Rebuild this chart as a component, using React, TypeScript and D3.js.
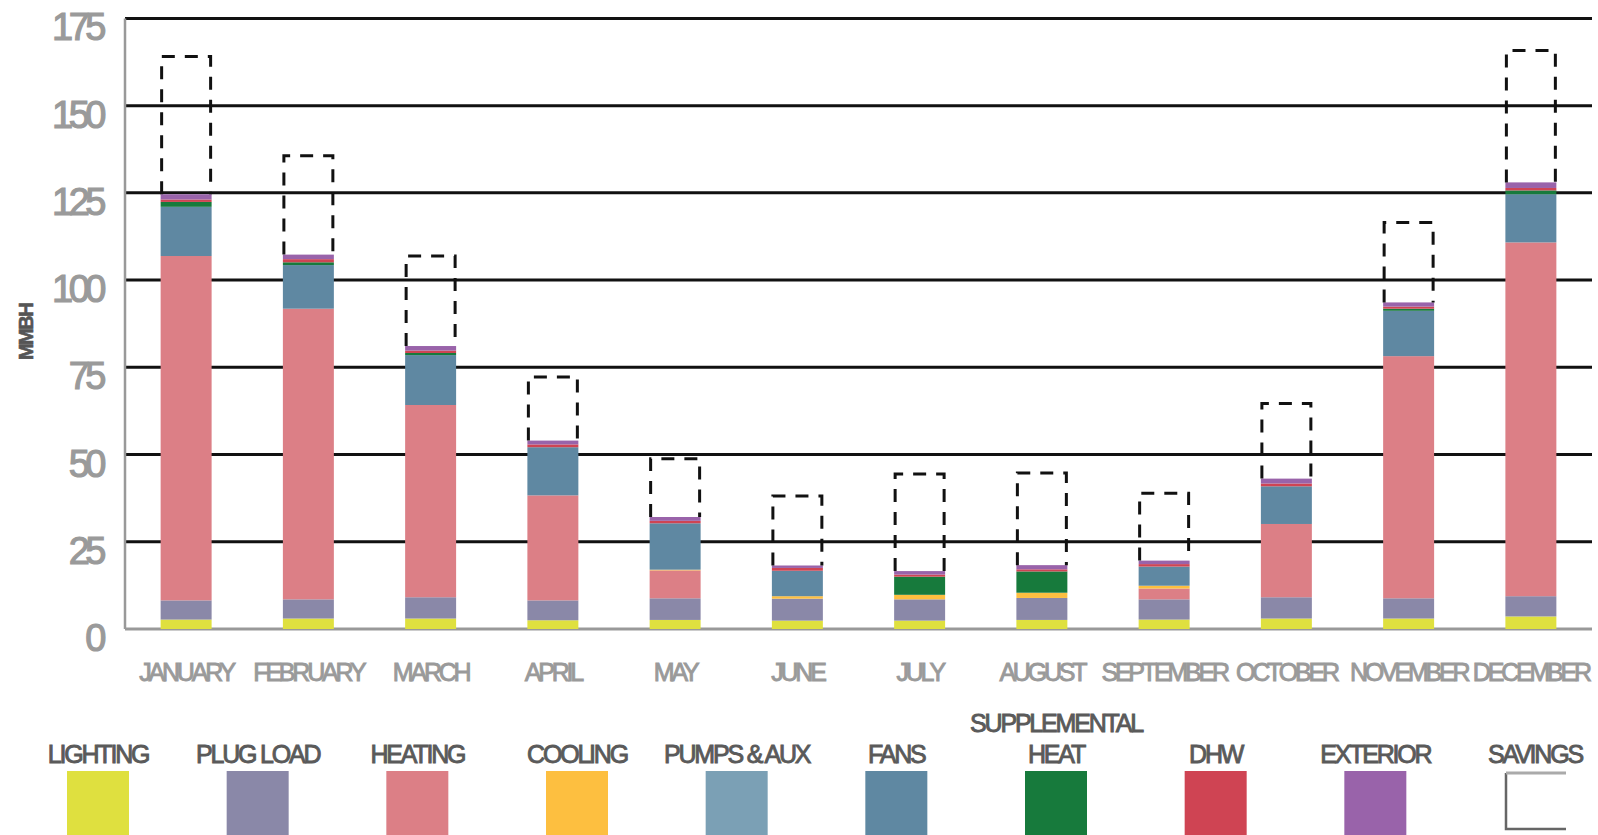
import React from "react";
import { scaleBand, scaleLinear, stack, range } from "d3";

// monthly energy use by end use, MMBH
const months = [
  "JANUARY", "FEBRUARY", "MARCH", "APRIL", "MAY", "JUNE",
  "JULY", "AUGUST", "SEPTEMBER", "OCTOBER", "NOVEMBER", "DECEMBER"
];

const lighting = [2.7, 3.0, 3.0, 2.5, 2.6, 2.4, 2.4, 2.6, 2.7, 3.0, 3.0, 3.6];
const plugLoad = [5.5, 5.5, 6.1, 5.7, 6.2, 6.3, 6.1, 6.3, 5.8, 6.1, 5.8, 5.8];
const heating = [98.7, 83.3, 55.1, 30.1, 8.0, 0, 0, 0, 3.1, 21.0, 69.4, 101.4];
const cooling = [0, 0, 0, 0, 0.2, 0.7, 1.3, 1.5, 0.8, 0, 0, 0];
const pumpsAux = [0, 0, 0, 0, 0, 0, 0, 0, 0, 0, 0, 0];
const fans = [14.1, 12.5, 14.3, 13.8, 13.3, 7.3, 0, 0, 5.5, 10.8, 13.0, 13.8];
const suppHeat = [1.4, 0.8, 0.6, 0, 0, 0, 5.2, 6.1, 0, 0, 0.6, 1.1];
const dhw = [0.7, 0.9, 0.7, 0.8, 0.7, 0.8, 0.6, 0.6, 0.7, 0.8, 0.6, 0.7];
const exterior = [1.5, 1.3, 1.3, 1.1, 1.1, 0.7, 1.0, 1.2, 1.0, 1.4, 1.2, 1.6];
const savings = [39.5, 28.3, 25.8, 18.2, 16.7, 19.9, 27.8, 26.4, 19.3, 21.5, 22.9, 37.8];

const yTicks = [0, 25, 50, 75, 100, 125, 150, 175];

const seriesKeys = [
  "lighting", "plugLoad", "heating", "cooling", "pumpsAux",
  "fans", "suppHeat", "dhw", "exterior"
];
const seriesLabels = [
  ["LIGHTING"], ["PLUG LOAD"], ["HEATING"], ["COOLING"], ["PUMPS & AUX"],
  ["FANS"], ["SUPPLEMENTAL", "HEAT"], ["DHW"], ["EXTERIOR"]
];
const seriesColors = [
  "#dfe03f", "#8a88a8", "#dc7f86", "#fdbf40", "#7ba0b5",
  "#5f88a2", "#177a3c", "#cf4453", "#9963aa"
];

const width = 1598,
  height = 835;

export default function App() {
  const x = scaleBand<string>()
    .domain(months)
    .range([125, 1592])
    .paddingInner(0.583)
    .paddingOuter(0.2915);

  const y = scaleLinear().domain([0, 175]).range([629, 18.4]);

  const values = [lighting, plugLoad, heating, cooling, pumpsAux, fans, suppHeat, dhw, exterior];
  const rows = months.map((m, i) => {
    const r: any = { month: m };
    seriesKeys.forEach((k, j) => (r[k] = values[j][i]));
    return r;
  });
  const layers = stack<any>().keys(seriesKeys)(rows);
  const totals = rows.map((_, i) => layers[layers.length - 1][i][1]);

  const legendX = scaleLinear().domain([0, 9]).range([98, 1535]);
  const legendNames = [...seriesLabels, ["SAVINGS"]];

  const labelFont = "'Liberation Sans', Arial, sans-serif";

  return (
    <svg
      width={width}
      height={height}
      style={{ position: "absolute", left: 0, top: 0, background: "#fff" }}
    >
      {/* gridlines */}
      {yTicks.filter(t => t > 0).map(t => (
        <line key={t} x1={125} x2={1592} y1={y(t)} y2={y(t)} stroke="#111" strokeWidth={3} />
      ))}
      <line x1={125} x2={125} y1={y(175)} y2={y(0)} stroke="#999" strokeWidth={2.5} />
      <line x1={125} x2={1592} y1={y(0)} y2={y(0)} stroke="#999" strokeWidth={3} />

      {/* y tick labels */}
      {yTicks.map(t => (
        <text
          key={t}
          x={102}
          y={y(t) + 22}
          textAnchor="end"
          fontFamily={labelFont}
          fontSize={38}
          letterSpacing={-4.5}
          fill="#9a9a9a"
          stroke="#9a9a9a"
          strokeWidth={1.2}
        >
          {t}
        </text>
      ))}
      <text
        transform={`translate(33, 332) rotate(-90)`}
        textAnchor="middle"
        fontFamily={labelFont}
        fontWeight="bold"
        fontSize={20}
        letterSpacing={-1.5}
        fill="#555"
        stroke="#555"
        strokeWidth={0.6}
      >
        MMBH
      </text>

      {/* stacked bars */}
      {layers.map((layer, j) => (
        <g key={layer.key} fill={seriesColors[j]}>
          {layer.map((d, i) =>
            d[1] - d[0] > 0 ? (
              <rect
                key={i}
                x={x(months[i])}
                y={y(d[1])}
                width={x.bandwidth()}
                height={y(d[0]) - y(d[1])}
              />
            ) : null
          )}
        </g>
      ))}

      {/* savings outlines */}
      {months.map((m, i) => {
        const x0 = x(m)! + 1,
          x1 = x(m)! + x.bandwidth() - 1,
          yb = y(totals[i]),
          yt = y(totals[i] + savings[i]);
        return (
          <path
            key={m}
            d={`M${x0},${yb}V${yt}H${x1}V${yb}`}
            fill="none"
            stroke="#111"
            strokeWidth={3}
            strokeDasharray="13 10"
          />
        );
      })}

      {/* month labels */}
      {months.map(m => (
        <text
          key={m}
          x={x(m)! + x.bandwidth() / 2}
          y={681}
          textAnchor="middle"
          fontFamily={labelFont}
          fontSize={25}
          letterSpacing={-3.2}
          fill="#9a9a9a"
          stroke="#9a9a9a"
          strokeWidth={0.9}
        >
          {m}
        </text>
      ))}

      {/* legend */}
      {range(10).map(i => {
        const cx = legendX(i);
        const lines = legendNames[i];
        return (
          <g key={i}>
            {lines.map((ln, k) => (
              <text
                key={ln}
                x={cx}
                y={763 - (lines.length - 1 - k) * 31}
                textAnchor="middle"
                fontFamily={labelFont}
                fontSize={25}
                letterSpacing={-2.2}
                fill="#5a5a5a"
                stroke="#5a5a5a"
                strokeWidth={0.9}
              >
                {ln}
              </text>
            ))}
            {i < 9 ? (
              <rect x={cx - 31} y={771} width={62} height={64} fill={seriesColors[i]} />
            ) : (
              <g fill="none">
                <path
                  d={`M${cx + 31},${829}H${cx - 29}V${773}`}
                  stroke="#666"
                  strokeWidth={2.5}
                />
                <line x1={cx - 29} x2={cx + 31} y1={773} y2={773} stroke="#aaa" strokeWidth={3} />
              </g>
            )}
          </g>
        );
      })}
    </svg>
  );
}
